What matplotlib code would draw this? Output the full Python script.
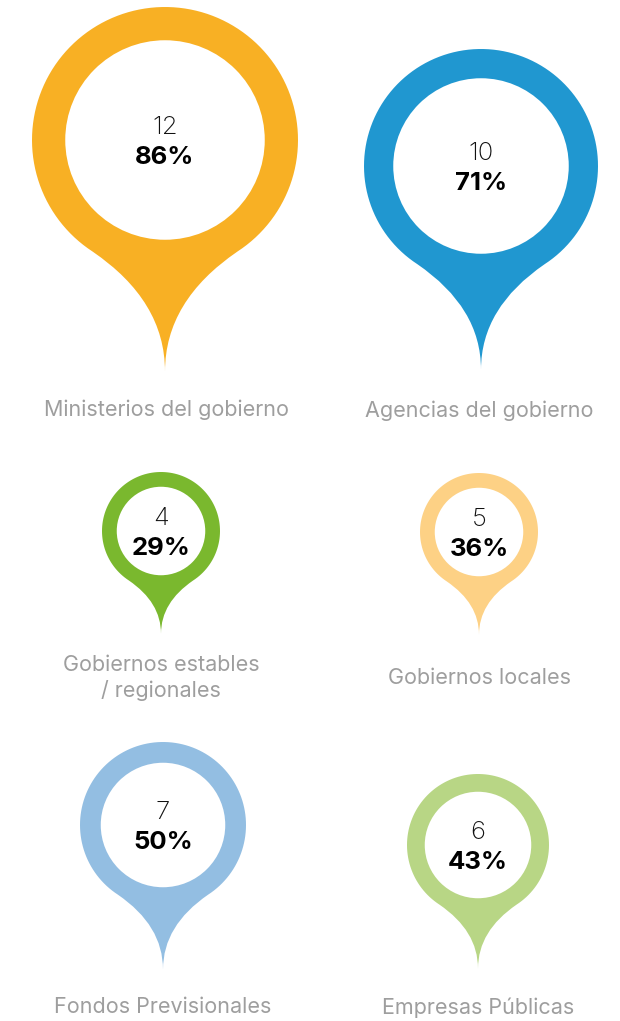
#!/usr/bin/env python3
"""Pin infographic: entities by type, count and share."""

import numpy as np
import matplotlib
matplotlib.use('Agg')
import matplotlib.pyplot as plt
from matplotlib.path import Path
from matplotlib.patches import PathPatch, Circle

# data
categories = ['Ministerios del gobierno', 'Agencias del gobierno',
              'Gobiernos estables\n/ regionales', 'Gobiernos locales',
              'Fondos Previsionales', 'Empresas Públicas']
counts = [12, 10, 4, 5, 7, 6]
shares = [86, 71, 29, 36, 50, 43]

# layout (pixels, y down)
colors = ['#F8B024', '#2097D0', '#7AB82E', '#FDD185', '#93BEE2', '#B8D685']
centers = [(165, 140), (481, 166), (161, 531), (479, 532), (163, 825), (478, 845)]
radii = [133, 117, 59, 59, 83, 71]
label_pos = [(166, 410), (479, 411), (161, 678), (479, 678), (163, 1007), (478, 1008)]

plt.rcParams['font.family'] = ['Inter', 'DejaVu Sans']


def pin_path(cx, cy, r):
  # circle with a concave tail ending in a sharp tip
  a0, a1 = np.radians(-57), np.radians(237)
  t = np.linspace(a0, a1, 120)
  verts = [(np.cos(a), np.sin(a)) for a in t]
  codes = [Path.MOVETO] + [Path.LINETO] * (len(verts) - 1)
  verts += [(0, -1.21), (0, -1.74), (0, -1.21), (np.cos(a0), np.sin(a0)), (0, 0)]
  codes += [Path.CURVE3, Path.CURVE3, Path.CURVE3, Path.CURVE3, Path.CLOSEPOLY]
  verts = [(cx + r * x, cy - r * y) for x, y in verts]
  return Path(verts, codes)


fig = plt.figure(figsize=(6.2, 10.21), dpi=100)
ax = fig.add_axes([0, 0, 1, 1])
ax.set_xlim(0, 620)
ax.set_ylim(1021, 0)
ax.set_aspect('equal')
ax.axis('off')

for i in range(len(categories)):
  cx, cy = centers[i]
  r = radii[i]
  ax.add_patch(PathPatch(pin_path(cx, cy, r), facecolor=colors[i], edgecolor='none'))
  ax.add_patch(Circle((cx, cy), 0.75 * r, facecolor='white', edgecolor='none'))
  ax.text(cx, cy - 13, str(counts[i]), ha='center', va='center',
          fontsize=18.5, fontweight='light', color='#111111')
  ax.text(cx, cy + 17, f'{shares[i]}%', ha='center', va='center',
          fontsize=18.5, fontweight='bold', color='#000000')
  lx, ly = label_pos[i]
  ax.text(lx, ly, categories[i], ha='center', va='center', fontsize=15.5,
          color='#9E9E9E', linespacing=1.25)

fig.savefig('out.png', dpi=100, facecolor='white')
